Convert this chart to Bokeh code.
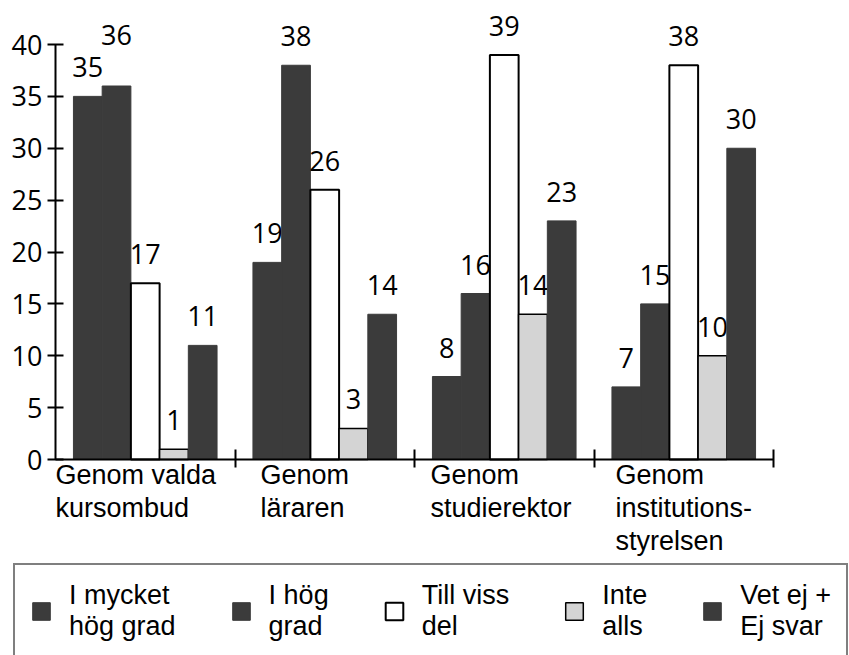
from bokeh.plotting import figure
from bokeh.models import (ColumnDataSource, FixedTicker, Legend, LegendItem,
                          CustomJSTickFormatter)
from bokeh.core.properties import value
from bokeh.embed import file_html
from bokeh.resources import INLINE

# ---- data ----
categories = ["Genom valda\nkursombud", "Genom\nläraren", "Genom\nstudierektor",
              "Genom\ninstitutions-\nstyrelsen"]
series_names = ["I mycket\nhög grad", "I hög\ngrad", "Till viss\ndel", "Inte\nalls",
                "Vet ej +\nEj svar"]
mycket_hog = [35, 19, 8, 7]
hog = [36, 38, 16, 15]
till_viss = [17, 26, 39, 38]
inte_alls = [1, 3, 14, 10]
vet_ej = [11, 14, 23, 30]
y_ticks = [0, 5, 10, 15, 20, 25, 30, 35, 40]

series = [mycket_hog, hog, till_viss, inte_alls, vet_ej]

# ---- layout / style ----
W, H = 849, 655
PX_PER_CAT = 179.5          # px per category
PX_PER_UNIT = 10.375        # px per value unit
AXIS_X_PX = 55              # page x of the value axis (category -0.5)
ZERO_Y_PX = 459             # page y of value 0
x_lo = -0.5 - AXIS_X_PX / PX_PER_CAT
x_hi = x_lo + W / PX_PER_CAT
y_hi = ZERO_Y_PX / PX_PER_UNIT
y_lo = y_hi - H / PX_PER_UNIT

DARK = "#3b3b3b"
fills = [DARK, DARK, "white", "#d4d4d4", DARK]
lines = [DARK, DARK, "black", "black", DARK]
lwidths = [1, 1, 2, 1.5, 1]
offsets = [-0.32, -0.16, 0.0, 0.16, 0.32]
BAR_W = 0.16
label_shift = [0.0, 0.142, 0.089, 0.12]
extra_label_lift = {(1, 0): 22}  # (series, category) -> extra px to avoid overlap

NUM_FONT = value("Open Sans")
TXT_FONT = value("Liberation Sans")

p = figure(width=W, height=H, output_backend="svg", toolbar_location=None,
           x_range=(x_lo, x_hi), y_range=(y_lo, y_hi),
           min_border_left=0, min_border_bottom=0,
           min_border_top=0, min_border_right=0)
p.outline_line_color = None
p.xgrid.visible = False
p.ygrid.visible = False
p.background_fill_color = "white"
p.border_fill_color = "white"

renderers = []
for k, vals in enumerate(series):
    n = len(vals)
    xs = [i + offsets[k] for i in range(n)]
    dy = [-(29 + extra_label_lift.get((k, i), 0)) for i in range(n)]
    src = ColumnDataSource(dict(x=xs, top=vals, label=[str(v) for v in vals], dy=dy))
    r = p.vbar(x="x", top="top", bottom=0, width=BAR_W, source=src,
               fill_color=fills[k], line_color=lines[k], line_width=lwidths[k])
    renderers.append(r)
    p.text(x="x", y="top", text="label", source=src, y_offset="dy",
           text_align="center", text_baseline="alphabetic",
           text_font=NUM_FONT, text_font_size="27px", text_color="black")

# y axis, fixed at the left edge of the first category
ya = p.yaxis[0]
ya.fixed_location = -0.5
ya.ticker = FixedTicker(ticks=y_ticks)
ya.bounds = (0, 40)
ya.axis_line_width = 2
ya.axis_line_color = "black"
ya.major_tick_line_width = 2
ya.major_tick_in = 8
ya.major_tick_out = 8
ya.minor_tick_line_color = None
ya.major_label_standoff = 5
ya.major_label_text_font = "Open Sans"
ya.major_label_text_font_size = "27px"
ya.major_label_text_color = "black"

# x axis at value 0, ticks at category boundaries
xa = p.xaxis[0]
xa.fixed_location = 0
bounds_ticks = [i + 0.5 for i in range(len(categories))]
xa.ticker = FixedTicker(ticks=bounds_ticks)
xa.formatter = CustomJSTickFormatter(code="return ''")
xa.bounds = (-0.5, len(categories) - 0.5)
xa.axis_line_width = 2
xa.axis_line_color = "black"
xa.major_tick_in = 10
xa.major_tick_out = 8
xa.major_tick_line_width = 2
xa.major_tick_line_color = "black"
xa.minor_tick_line_color = None

# category labels, left-aligned under each group
label_pos = [i - 0.5 + label_shift[i] for i in range(len(categories))]
cat_src = ColumnDataSource(dict(x=label_pos, y=[0] * len(categories), text=categories))
p.text(x="x", y="y", text="text", source=cat_src, y_offset=0,
       text_align="left", text_baseline="top", text_font=TXT_FONT,
       text_font_size="27px", text_line_height=1.1, text_color="black")

legend = Legend(items=[LegendItem(label=series_names[k], renderers=[renderers[k]])
                       for k in range(len(series))],
                orientation="horizontal", location=(13, -4),
                border_line_color="black", border_line_width=2,
                background_fill_color="white", background_fill_alpha=1.0,
                padding=15, spacing=54, label_standoff=17,
                glyph_width=22, glyph_height=22, margin=0,
                label_text_font="Liberation Sans", label_text_font_size="27px",
                label_text_line_height=1.15, label_text_color="black")
p.add_layout(legend, "center")

open("out.html", "w").write(file_html(p, INLINE))
